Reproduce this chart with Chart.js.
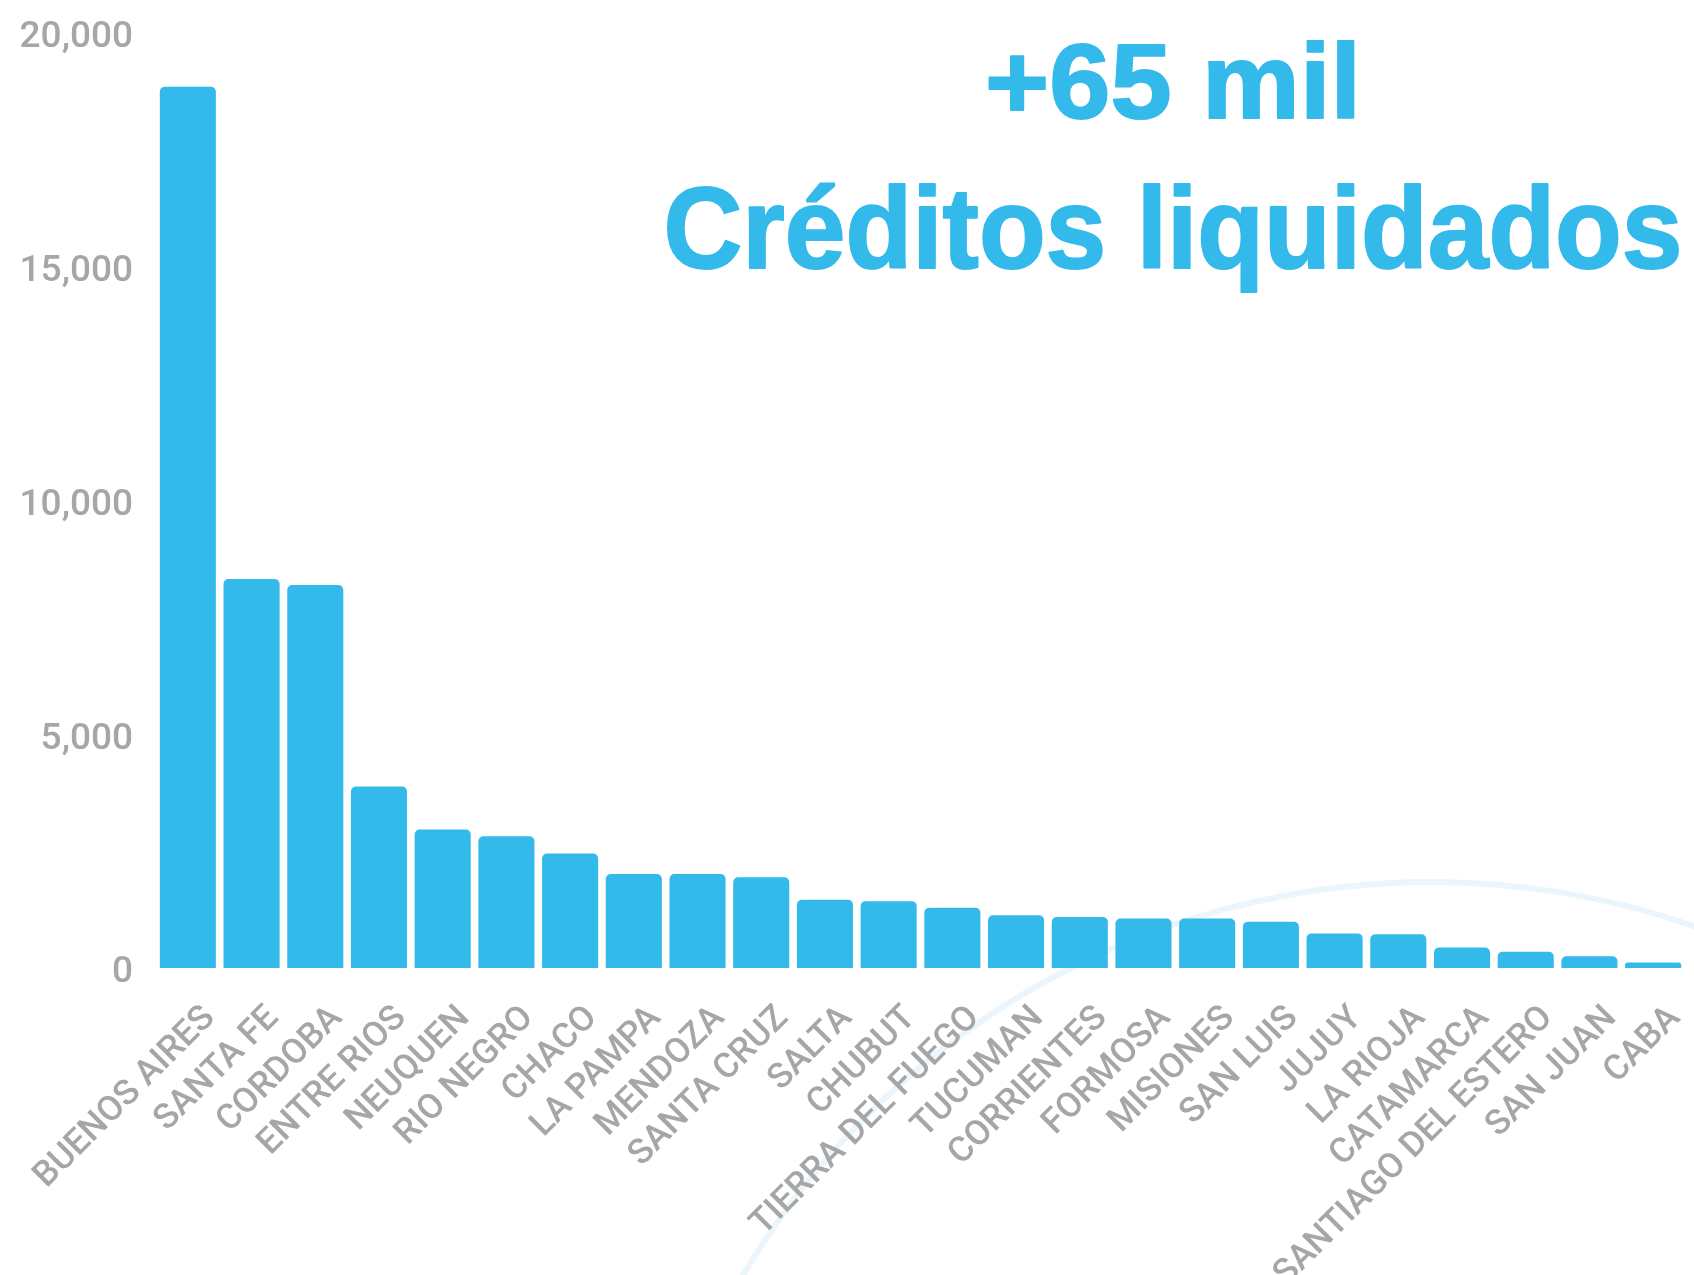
<!DOCTYPE html>
<html>
<head>
<meta charset="utf-8">
<script src="https://cdn.jsdelivr.net/npm/chart.js@4.4.0/dist/chart.umd.min.js"></script>
<style>
  html, body { margin: 0; padding: 0; background: #ffffff; }
  #wrap { width: 1694px; height: 1275px; position: relative; }
</style>
</head>
<body>
<div id="wrap"><canvas id="creditos-chart" width="1694" height="1275"></canvas></div>
<script>
var provincias = ["BUENOS AIRES", "SANTA FE", "CORDOBA", "ENTRE RIOS", "NEUQUEN", "RIO NEGRO",
  "CHACO", "LA PAMPA", "MENDOZA", "SANTA CRUZ", "SALTA", "CHUBUT", "TIERRA DEL FUEGO",
  "TUCUMAN", "CORRIENTES", "FORMOSA", "MISIONES", "SAN LUIS", "JUJUY", "LA RIOJA",
  "CATAMARCA", "SANTIAGO DEL ESTERO", "SAN JUAN", "CABA"];
var creditos = [18850, 8320, 8190, 3880, 2960, 2820, 2450, 2010, 2010, 1940, 1460, 1430, 1290,
  1130, 1090, 1060, 1060, 990, 740, 720, 440, 350, 250, 120];
var ticksY = [0, 5000, 10000, 15000, 20000];
var titulo = ["+65 mil", "Créditos liquidados"];

var AZUL = "#34b9eb";
var GRIS = "#a6a6a6";

// arco celeste de fondo, detras de todo
var fondoArco = {
  id: "fondoArco",
  beforeDraw: function (chart) {
    var ctx = chart.ctx;
    ctx.save();
    ctx.beginPath();
    ctx.arc(1432, 1682, 800, Math.PI * 1.05, Math.PI * 1.95);
    ctx.strokeStyle = "#eaf6fc";
    ctx.lineWidth = 6;
    ctx.stroke();
    ctx.restore();
  }
};

// texto grande arriba a la derecha
function textoAncho(ctx, txt, cx, base, size, ancho) {
  ctx.font = "bold " + size + "px 'Liberation Sans', Arial, sans-serif";
  var w = ctx.measureText(txt).width;
  ctx.save();
  ctx.translate(cx, base);
  ctx.scale(ancho / w, 1);
  ctx.textAlign = "center";
  ctx.textBaseline = "alphabetic";
  ctx.lineJoin = "round";
  ctx.lineWidth = 2;
  ctx.strokeStyle = AZUL;
  ctx.fillText(txt, 0, 0);
  ctx.strokeText(txt, 0, 0);
  ctx.restore();
}
var titulos = {
  id: "titulos",
  afterDraw: function (chart) {
    var ctx = chart.ctx;
    ctx.save();
    ctx.fillStyle = AZUL;
    textoAncho(ctx, titulo[0], 1173, 118, 106, 376);
    textoAncho(ctx, titulo[1], 1173, 268, 115, 1019);
    ctx.restore();
  }
};

var ctx = document.getElementById("creditos-chart");
var grafico = new Chart(ctx, {
  type: "bar",
  data: {
    labels: provincias,
    datasets: [{
      data: creditos,
      backgroundColor: AZUL,
      borderRadius: 5,
      borderSkipped: "start",
      categoryPercentage: 1.0,
      barPercentage: 0.88
    }]
  },
  options: {
    responsive: false,
    animation: false,
    devicePixelRatio: 1,
    layout: { padding: { top: 33, right: 9, bottom: 0, left: 0 } },
    plugins: { legend: { display: false }, tooltip: { enabled: false } },
    scales: {
      x: {
        grid: { display: false, drawTicks: false },
        border: { display: false },
        ticks: {
          color: GRIS,
          font: { family: "Roboto, sans-serif", size: 35, weight: "500" },
          minRotation: 45,
          maxRotation: 45,
          autoSkip: false,
          labelOffset: 22,
          padding: 30
        },
        afterFit: function (scale) {
          scale.height = 307;
          scale.paddingLeft = 0;
          scale.paddingRight = 0;
        }
      },
      y: {
        min: 0,
        max: 20000,
        afterBuildTicks: function (scale) {
          scale.ticks = ticksY.map(function (v) { return { value: v }; });
        },
        grid: { display: false, drawTicks: false },
        border: { display: false },
        ticks: {
          color: GRIS,
          font: { family: "Roboto, sans-serif", size: 37, weight: "500" },
          padding: 23,
          labelOffset: 5,
          callback: function (v) { return v.toLocaleString("en-US"); }
        },
        afterFit: function (scale) {
          scale.width = 156;
          scale.paddingTop = 0;
          scale.paddingBottom = 0;
        }
      }
    }
  },
  plugins: [fondoArco, titulos]
});
</script>
</body>
</html>
